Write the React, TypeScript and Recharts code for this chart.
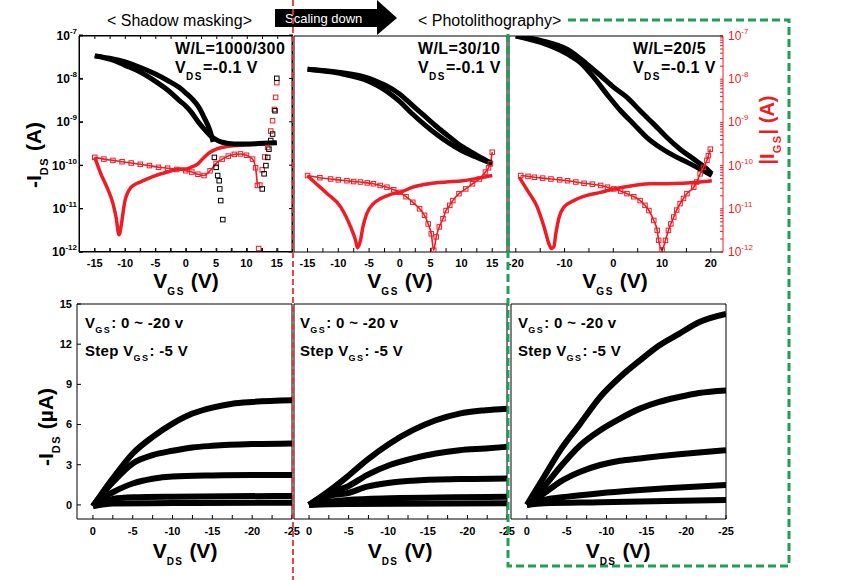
import React from "react";
import { ComposedChart, Line, XAxis, YAxis } from "recharts";

const FONT = '"Liberation Sans", Arial, Helvetica, sans-serif';
const RED = "#ee1c24";
const GREEN = "#1f9e55";

type Pt = [number, number];

// ---- transfer curves: [V_GS, log10(I)] ----
const p1DrainFwd: Pt[] = [[-15, -7.46], [-12, -7.56], [-10, -7.68], [-8, -7.8], [-5, -8.05], [-3, -8.25], [-1, -8.5], [0, -8.62], [1, -8.78], [2, -8.98], [3, -9.15], [4, -9.3], [5, -9.4], [6, -9.46], [8, -9.5], [10, -9.5], [12, -9.49], [15, -9.47]];
const p1DrainRev: Pt[] = [[-15, -7.46], [-12, -7.53], [-10, -7.6], [-8, -7.7], [-5, -7.88], [-3, -8.03], [-1, -8.2], [0, -8.32], [1, -8.45], [2, -8.62], [3, -8.88], [4, -9.2], [4.5, -9.45]];
const p1DrainTail: Pt[] = [[4.7, -9.81], [5.0, -10.04], [5.25, -10.23], [5.5, -10.35], [5.6, -10.54], [5.75, -10.81], [6.1, -11.25], [12.6, -10.54], [12.9, -10.19], [13.2, -10.0], [13.5, -9.81], [13.7, -9.62], [14.0, -9.42], [14.3, -9.27], [14.7, -8.73], [15, -7.98]];
const p1GateFwd: Pt[] = [[-15, -9.81], [-14, -10.19], [-13, -10.5], [-12, -10.88], [-11.5, -11.19], [-11, -11.6], [-10.6, -11.35], [-10.3, -11.05], [-10, -10.8], [-9, -10.5], [-8, -10.41], [-7, -10.35], [-5, -10.23], [-3, -10.15], [-1, -10.08], [0, -10.08], [1, -10.03], [2, -9.96], [3, -9.81], [4, -9.69], [5, -9.62], [7, -9.55], [10, -9.52], [15, -9.48]];
const p1GateRev: Pt[] = [[-15, -9.81], [-13.5, -9.85], [-12, -9.88], [-10.5, -9.91], [-9, -9.94], [-7.5, -9.97], [-6, -10.0], [-4.5, -10.04], [-3, -10.06], [-1.5, -10.09], [0, -10.12], [1, -10.15], [2, -10.2], [3, -10.23], [4, -10.12], [5, -9.95], [6, -9.85], [7, -9.78], [8, -9.74], [9, -9.73], [10, -9.76], [11, -9.85], [11.5, -10.05], [11.8, -10.46]];
const p1GateTail: Pt[] = [[12.0, -11.92], [12.2, -10.45], [12.6, -10.1], [13.0, -9.8], [13.5, -9.58], [14.0, -9.2], [14.3, -8.96], [14.6, -8.7], [14.8, -8.42], [15, -8.08]];

const p2DrainA: Pt[] = [[-15, -7.77], [-10, -7.84], [-5, -7.98], [-3, -8.1], [-1, -8.25], [0, -8.35], [2, -8.6], [4, -8.85], [6, -9.1], [8, -9.33], [10, -9.55], [12, -9.72], [14, -9.88], [15, -9.95]];
const p2DrainB: Pt[] = [[-15, -7.77], [-10, -7.86], [-5, -8.05], [-3, -8.2], [-1, -8.4], [0, -8.52], [2, -8.8], [4, -9.05], [6, -9.28], [8, -9.48], [10, -9.65], [12, -9.78], [14, -9.9], [15, -9.95]];
const p2GateFwd: Pt[] = [[-15, -10.23], [-13.9, -10.38], [-11.8, -10.65], [-9.6, -10.96], [-8, -11.42], [-7.2, -11.73], [-6.9, -11.9], [-6.4, -11.73], [-6, -11.42], [-5.4, -11.12], [-4.3, -10.88], [-3.2, -10.77], [-1.6, -10.67], [0, -10.62], [2.1, -10.5], [4.8, -10.42], [7.5, -10.38], [10.2, -10.35], [12.9, -10.29], [15, -10.23]];
const p2GateRev: Pt[] = [[-15, -10.23], [-13, -10.28], [-11.25, -10.31], [-10, -10.33], [-8.6, -10.35], [-7.5, -10.37], [-6.4, -10.38], [-5.3, -10.4], [-4.3, -10.42], [-3.2, -10.46], [-2.1, -10.5], [-1, -10.56], [0, -10.62], [1, -10.72], [2.1, -10.85], [3.2, -11.0], [4, -11.15], [4.6, -11.35], [5.1, -11.58], [5.5, -11.96], [5.9, -11.65], [6.4, -11.42], [7, -11.23], [7.5, -11.04], [8.1, -10.92], [8.6, -10.81], [9.6, -10.65], [10.7, -10.54], [11.8, -10.42], [12.9, -10.31], [13.9, -10.15], [14.4, -10.05], [14.7, -9.96], [15, -9.69]];

const p3DrainA: Pt[] = [[-20, -7.0], [-14.9, -7.1], [-9.4, -7.31], [-5.4, -7.65], [-2.6, -7.92], [0.1, -8.19], [2.8, -8.42], [5.5, -8.73], [8.3, -9.04], [11, -9.35], [13.7, -9.62], [16.5, -9.85], [19.2, -10.08], [20.2, -10.19]];
const p3DrainB: Pt[] = [[-20, -7.0], [-14.9, -7.15], [-9.4, -7.42], [-6.7, -7.62], [-4, -7.96], [-1.3, -8.35], [1.5, -8.73], [4.2, -9.04], [6.9, -9.35], [9.6, -9.58], [12.4, -9.77], [15.1, -9.92], [17.8, -10.08], [20.2, -10.23]];
const p3GateFwd: Pt[] = [[-19.3, -10.27], [-17.6, -10.58], [-15.6, -10.96], [-14.2, -11.42], [-13.2, -11.81], [-12.7, -11.92], [-12.2, -11.88], [-11.8, -11.58], [-11.1, -11.19], [-10.1, -10.96], [-8.1, -10.81], [-5.4, -10.69], [-2.6, -10.62], [0.1, -10.54], [4.2, -10.46], [7.6, -10.42], [11, -10.42], [14.4, -10.41], [17.8, -10.38], [20.2, -10.35]];
const p3GateRev: Pt[] = [[-19, -10.23], [-17.5, -10.25], [-16.2, -10.27], [-14.5, -10.29], [-12.8, -10.31], [-11, -10.33], [-9.4, -10.35], [-7.7, -10.38], [-6, -10.41], [-4.3, -10.43], [-2.6, -10.46], [-1.2, -10.5], [0.1, -10.54], [1.5, -10.59], [2.8, -10.65], [4.2, -10.72], [5.5, -10.81], [6.5, -10.92], [7.3, -11.04], [8.3, -11.27], [9, -11.5], [9.3, -11.73], [10, -11.95], [10.7, -11.73], [11.3, -11.5], [11.8, -11.35], [12.4, -11.19], [13, -11.03], [13.7, -10.88], [14.4, -10.76], [15.1, -10.65], [16.5, -10.5], [17.1, -10.38], [17.8, -10.19], [18.5, -10.04], [19.2, -9.88], [19.5, -9.77], [19.9, -9.62]];

// ---- output curves: [|V_DS|, -I_DS (uA)], V_GS = 0, -5, -10, -15, -20 V ----
const p4Vg0: Pt[] = [[0, -0.1], [2.5, 0.1], [10, 0.14], [25, 0.17]];
const p4Vg5: Pt[] = [[0, -0.1], [1, 0.25], [2.5, 0.45], [5, 0.57], [10, 0.62], [25, 0.67]];
const p4Vg10: Pt[] = [[0, -0.1], [1, 0.45], [2.5, 0.95], [5, 1.6], [7.5, 1.95], [10, 2.12], [15, 2.2], [20, 2.23], [25, 2.23]];
const p4Vg15: Pt[] = [[0, -0.1], [1, 0.7], [2.5, 1.7], [5, 3.1], [7.5, 3.72], [10, 4.04], [12.5, 4.29], [15, 4.41], [20, 4.54], [25, 4.59]];
const p4Vg20: Pt[] = [[0, -0.1], [1, 0.75], [2.5, 1.98], [5, 3.84], [7.5, 5.08], [10, 6.07], [12.5, 6.82], [15, 7.27], [17.5, 7.56], [20, 7.69], [25, 7.81]];

const p5Vg0: Pt[] = [[0, 0], [4.8, 0.07], [25, 0.12]];
const p5Vg5: Pt[] = [[0, 0], [2.7, 0.25], [4.8, 0.37], [10.2, 0.5], [25, 0.62]];
const p5Vg10: Pt[] = [[0, 0], [2.7, 0.7], [4.8, 0.87], [7.3, 1.36], [10.2, 1.66], [13.1, 1.81], [19, 1.93], [25, 1.98]];
const p5Vg15: Pt[] = [[0, 0], [2.7, 0.95], [4.8, 1.36], [7.3, 2.23], [10.2, 2.98], [13.1, 3.47], [16, 3.84], [19, 4.09], [22.3, 4.22], [25, 4.34]];
const p5Vg20: Pt[] = [[0, 0], [2.7, 1.12], [4.8, 2.1], [7.3, 3.35], [10.2, 4.59], [13.1, 5.58], [16, 6.32], [19, 6.82], [22.3, 7.07], [25, 7.19]];

const p6Vg0: Pt[] = [[0, 0], [2.15, 0.12], [9.2, 0.2], [17.5, 0.3], [25, 0.37]];
const p6Vg5: Pt[] = [[0, 0], [2.15, 0.37], [5.1, 0.62], [9.2, 0.87], [13.3, 1.07], [17.5, 1.24], [25, 1.49]];
const p6Vg10: Pt[] = [[0, 0], [2.15, 0.87], [4.2, 1.74], [6.7, 2.48], [9.2, 2.98], [11.7, 3.3], [14.2, 3.47], [16.6, 3.64], [19.1, 3.79], [21.6, 3.92], [25, 4.09]];
const p6Vg15: Pt[] = [[0, 0], [2.15, 1.36], [4.2, 2.85], [6.7, 4.46], [9.2, 5.58], [11.7, 6.45], [14.2, 7.19], [16.6, 7.69], [19.1, 8.06], [21.6, 8.36], [25, 8.55]];
const p6Vg20: Pt[] = [[0, 0], [2.15, 2.1], [4.2, 4.09], [6.7, 6.07], [9.2, 8.06], [11.7, 9.55], [14.2, 10.79], [16.6, 11.9], [19.1, 12.77], [21.6, 13.64], [25, 14.26]];

// ---- ticks ----
const vgsTicks = [-15, -10, -5, 0, 5, 10, 15];
const vgsTicksWide = [-20, -10, 0, 10, 20];
const vdsTicks = [0, 5, 10, 15, 20, 25];
const idTicks = [0, 3, 6, 9, 12, 15];
const decades = [1e-12, 1e-11, 1e-10, 1e-9, 1e-8, 1e-7];

const withMinor = (t: number[]) => t.flatMap((v, i) => (i ? [(t[i - 1] + v) / 2, v] : [v]));
const logMinor = decades.flatMap((d, i) => (i < decades.length - 1 ? [d, 2 * d, 3 * d, 4 * d, 5 * d, 6 * d, 7 * d, 8 * d, 9 * d] : [d]));

const toLog = (pts: Pt[]) => pts.map(([v, e]) => ({ v, i: Math.pow(10, e) }));
const toLin = (pts: Pt[]) => pts.map(([v, i]) => ({ v, i }));

const tickFont = { fontSize: 11, fontWeight: 700, fill: "#000", fontFamily: FONT };
const blackLine = { stroke: "#000", strokeWidth: 1 };

type Rect = { x: number; y: number; w: number; h: number };
const PAD = { top: 12, right: 12, bottom: 2, left: 2 };

function Plot({ r, l, rt, b, children }: { r: Rect; l: number; rt: number; b: number; children: React.ReactNode }) {
  const width = l + r.w + rt + PAD.left + PAD.right;
  const height = r.h + b + PAD.top + PAD.bottom;
  return (
    <div style={{ position: "absolute", left: r.x - l - PAD.left, top: r.y - PAD.top, width, height }}>
      <ComposedChart width={width} height={height} margin={PAD}>
        {children}
      </ComposedChart>
    </div>
  );
}

function LogTick(props: any) {
  const { x, y, payload, color, anchor, weight } = props;
  const e = Math.log10(payload.value);
  if (Math.abs(e - Math.round(e)) > 1e-6) return <g />;
  return (
    <text x={x} y={y + 4} textAnchor={anchor} fill={color} fontFamily={FONT} fontSize={12} fontWeight={weight}>
      10<tspan dy={-6} fontSize={8}>{Math.round(e)}</tspan>
    </text>
  );
}

const openSquare = (color: string, s = 4.5) => (p: any) => (
  <rect key={`sq-${p.index}-${p.cx}`} x={p.cx - s / 2} y={p.cy - s / 2} width={s} height={s} fill="none" stroke={color} strokeWidth={1} />
);

const vgsLabel = (majors: number[]) => (v: number) => (majors.includes(v) ? String(v) : "");
const vdsLabel = (v: number) => (vdsTicks.includes(v) ? (v === 0 ? "0" : `-${v}`) : "");

function thick(data: Pt[], color: string, w: number, key: string, axis?: string) {
  return (
    <Line key={key} data={toLog(data)} dataKey="i" yAxisId={axis ?? 0} type="monotone" stroke={color} strokeWidth={w} dot={false} isAnimationActive={false} />
  );
}

function openLine(data: Pt[], color: string, key: string, axis?: string) {
  return (
    <Line key={key} data={toLog(data)} dataKey="i" yAxisId={axis ?? 0} type="monotone" stroke={color} strokeWidth={1.6} dot={openSquare(color)} isAnimationActive={false} />
  );
}

// isolated open squares (no visible connecting line)
function dots(data: Pt[], color: string, key: string, axis?: string) {
  return (
    <Line key={key} data={toLog(data)} dataKey="i" yAxisId={axis ?? 0} type="linear" stroke="none" dot={openSquare(color)} isAnimationActive={false} />
  );
}

function frameAxes(domainX: number[], ticksX: number[], logScale: boolean, domY: number[], ticksY: number[], withRight: boolean) {
  const out = [
    <XAxis key="xt" xAxisId="top" orientation="top" type="number" dataKey="v" domain={domainX} ticks={ticksX} interval={0} tick={false} height={1} tickSize={-4} axisLine={blackLine} tickLine={blackLine} allowDataOverflow />,
  ];
  if (withRight)
    out.push(
      <YAxis key="yr" yAxisId="rf" orientation="right" type="number" dataKey="i" scale={logScale ? "log" : "linear"} domain={domY} ticks={ticksY} interval={0} tick={false} width={1} tickSize={-4} axisLine={blackLine} tickLine={blackLine} allowDataOverflow />
    );
  return out;
}

function TransferPanel(props: {
  r: Rect; l: number; rt: number; domain: number[]; majors: number[]; showLeft: boolean; redRight: boolean;
  series: React.ReactNode[];
}) {
  const { r, l, rt, domain, majors, showLeft, redRight, series } = props;
  const xt = withMinor(majors);
  return (
    <Plot r={r} l={l} rt={rt} b={30}>
      <XAxis type="number" dataKey="v" domain={domain} ticks={xt} interval={0} tickFormatter={vgsLabel(majors)} height={30} tickSize={-4} tickMargin={11} tick={tickFont} axisLine={blackLine} tickLine={blackLine} allowDataOverflow />
      <YAxis type="number" dataKey="i" scale="log" domain={[1e-12, 1e-7]} ticks={decades} interval={0} width={Math.max(l, 1)} tickSize={-4} tickMargin={6}
        tick={showLeft ? (p: any) => <LogTick {...p} color="#000" anchor="end" weight={700} /> : false} axisLine={blackLine} tickLine={blackLine} allowDataOverflow />
      {redRight && (
        <YAxis yAxisId="r" orientation="right" type="number" dataKey="i" scale="log" domain={[1e-12, 1e-7]} ticks={logMinor} interval={0} width={rt} tickSize={-3} tickMargin={8}
          tick={(p: any) => <LogTick {...p} color={RED} anchor="start" weight={400} />} axisLine={{ stroke: RED }} tickLine={{ stroke: RED }} allowDataOverflow />
      )}
      {frameAxes(domain, xt, true, [1e-12, 1e-7], decades, !redRight)}
      {series}
    </Plot>
  );
}

function OutputPanel(props: { r: Rect; l: number; domain: number[]; showLeft: boolean; curves: Pt[][] }) {
  const { r, l, domain, showLeft, curves } = props;
  const xt = withMinor(vdsTicks);
  return (
    <Plot r={r} l={l} rt={0} b={26}>
      <XAxis type="number" dataKey="v" domain={domain} ticks={xt} interval={0} tickFormatter={vdsLabel} height={26} tickSize={-4} tickMargin={12} tick={tickFont} axisLine={blackLine} tickLine={blackLine} allowDataOverflow />
      <YAxis type="number" dataKey="i" domain={[-1.05, 15]} ticks={idTicks} interval={0} width={Math.max(l, 1)} tickSize={-4} tickMargin={9} tick={showLeft ? tickFont : false} axisLine={blackLine} tickLine={blackLine} allowDataOverflow />
      {frameAxes(domain, xt, false, [-1.05, 15], idTicks, true)}
      {curves.map((c, k) => (
        <Line key={`c${k}`} data={toLin(c)} dataKey="i" type="monotone" stroke="#000" strokeWidth={6} dot={false} isAnimationActive={false} />
      ))}
    </Plot>
  );
}

// plain box with inward ticks, drawn over the first transfer plot
function BoxFrame({ r, domain }: { r: Rect; domain: number[] }) {
  const xs = withMinor(vgsTicks).map((v) => r.x + ((v - domain[0]) / (domain[1] - domain[0])) * r.w);
  const ys = decades.map((d, k) => r.y + r.h - (k / (decades.length - 1)) * r.h);
  return (
    <g stroke="#000" strokeWidth={1} fill="none">
      <rect x={r.x + 0.5} y={r.y + 0.5} width={r.w - 1} height={r.h - 1} />
      {xs.map((x, k) => (
        <g key={`x${k}`}>
          <line x1={x} x2={x} y1={r.y + r.h} y2={r.y + r.h - 4} />
          <line x1={x} x2={x} y1={r.y} y2={r.y + 4} />
        </g>
      ))}
      {ys.map((y, k) => (
        <g key={`y${k}`}>
          <line x1={r.x} x2={r.x + 4} y1={y} y2={y} />
          <line x1={r.x + r.w} x2={r.x + r.w - 4} y1={y} y2={y} />
        </g>
      ))}
    </g>
  );
}

const Sub = ({ children, size, drop }: { children: React.ReactNode; size: number; drop: number }) => (
  <span style={{ fontSize: size, position: "relative", top: drop, letterSpacing: 1.5, fontWeight: 700 }}>{children}</span>
);

const abs = (left: number, top: number, extra: React.CSSProperties = {}): React.CSSProperties => ({
  position: "absolute", left, top, lineHeight: 1, whiteSpace: "nowrap", ...extra,
});

function AxisTitleX({ cx, top, sub }: { cx: number; top: number; sub: string }) {
  return (
    <div style={abs(cx, top, { transform: "translateX(-50%)", fontSize: 21, fontWeight: 700 })}>
      V<Sub size={10} drop={7}>{sub}</Sub> (V)
    </div>
  );
}

function Annot({ left, top, wl }: { left: number; top: number; wl: string }) {
  return (
    <>
      <div style={abs(left, top, { fontSize: 16, fontWeight: 700, letterSpacing: 0.4 })}>W/L={wl}</div>
      <div style={abs(left, top + 19, { fontSize: 16, fontWeight: 700, letterSpacing: 0.4 })}>
        V<Sub size={10} drop={7}>DS</Sub>=-0.1 V
      </div>
    </>
  );
}

function Bias({ left }: { left: number }) {
  return (
    <>
      <div style={abs(left, 315, { fontSize: 15, fontWeight: 700, letterSpacing: 0.3 })}>
        V<Sub size={9} drop={5}>GS</Sub>: 0 ~ -20 v
      </div>
      <div style={abs(left, 343, { fontSize: 15, fontWeight: 700, letterSpacing: 0.3 })}>
        Step V<Sub size={9} drop={5}>GS</Sub>: -5 V
      </div>
    </>
  );
}

const P1: Rect = { x: 79, y: 35, w: 214, h: 217 };
const P1_DOMAIN = [-17.6, 17.5];

export default function App() {
  return (
    <div style={{ position: "absolute", left: 0, top: 0, width: 867, height: 580, background: "#fff", fontFamily: FONT, color: "#000", overflow: "hidden" }}>
      <TransferPanel r={P1} l={79} rt={0} domain={P1_DOMAIN} majors={vgsTicks} showLeft redRight={false}
        series={[
          thick(p1GateFwd, RED, 3.5, "g1"), openLine(p1GateRev, RED, "g2"), dots(p1GateTail, RED, "g3"),
          thick(p1DrainFwd, "#000", 5, "d1"), thick(p1DrainRev, "#000", 5, "d2"), dots(p1DrainTail, "#000", "d3"),
        ]} />
      <TransferPanel r={{ x: 293, y: 35, w: 215, h: 217 }} l={0} rt={0} domain={[-17.2, 17.4]} majors={vgsTicks} showLeft={false} redRight={false}
        series={[
          thick(p2GateFwd, RED, 3.5, "g1"), openLine(p2GateRev, RED, "g2"),
          thick(p2DrainA, "#000", 5, "d1"), thick(p2DrainB, "#000", 5, "d2"),
        ]} />
      <TransferPanel r={{ x: 508, y: 35, w: 215, h: 217 }} l={0} rt={40} domain={[-21.4, 22.5]} majors={vgsTicksWide} showLeft={false} redRight
        series={[
          thick(p3DrainA, "#000", 5, "d1"), thick(p3DrainB, "#000", 5, "d2"),
          thick(p3GateFwd, RED, 3.5, "g1", "r"), openLine(p3GateRev, RED, "g2", "r"),
        ]} />

      <OutputPanel r={{ x: 77, y: 303, w: 216, h: 216 }} l={77} domain={[-2, 25]} showLeft curves={[p4Vg0, p4Vg5, p4Vg10, p4Vg15, p4Vg20]} />
      <OutputPanel r={{ x: 293, y: 303, w: 215, h: 216 }} l={0} domain={[-1.9, 25]} showLeft={false} curves={[p5Vg0, p5Vg5, p5Vg10, p5Vg15, p5Vg20]} />
      <OutputPanel r={{ x: 510, y: 303, w: 217, h: 216 }} l={0} domain={[-2, 25]} showLeft={false} curves={[p6Vg0, p6Vg5, p6Vg10, p6Vg15, p6Vg20]} />

      {/* decorations */}
      <svg width={867} height={580} style={{ position: "absolute", left: 0, top: 0, pointerEvents: "none" }}>
        <BoxFrame r={P1} domain={P1_DOMAIN} />
        <polygon points="275,9 377,9 377,0 397,18 377,35 377,27 275,27" fill="#000" />
        <text x={285} y={23} fill="#fff" fontFamily={FONT} fontSize={13}>Scaling down</text>
        <line x1={293} y1={0} x2={293} y2={580} stroke="#e8303a" strokeWidth={1.8} strokeDasharray="6 3" />
        <rect x={508} y={20} width={281} height={546} fill="none" stroke={GREEN} strokeWidth={3} strokeDasharray="8 4" />
      </svg>

      <div style={abs(107, 13, { fontSize: 16 })}>&lt; Shadow masking&gt;</div>
      <div style={abs(418, 13, { fontSize: 16, background: "#fff", paddingRight: 3 })}>&lt; Photolithography&gt;</div>

      <Annot left={175} top={41} wl="1000/300" />
      <Annot left={418} top={41} wl="30/10" />
      <Annot left={633} top={41} wl="20/5" />

      <AxisTitleX cx={186} top={270} sub="GS" />
      <AxisTitleX cx={400} top={270} sub="GS" />
      <AxisTitleX cx={615} top={270} sub="GS" />
      <AxisTitleX cx={185} top={540} sub="DS" />
      <AxisTitleX cx={400} top={540} sub="DS" />
      <AxisTitleX cx={618} top={540} sub="DS" />

      <div style={abs(33, 155, { transform: "translate(-50%, -50%) rotate(-90deg)", fontSize: 21, fontWeight: 700 })}>
        -I<Sub size={11} drop={7}>DS</Sub> (A)
      </div>
      <div style={abs(45, 427, { transform: "translate(-50%, -50%) rotate(-90deg)", fontSize: 21, fontWeight: 700 })}>
        -I<Sub size={11} drop={7}>DS</Sub> (µA)
      </div>
      <div style={abs(767, 130, { transform: "translate(-50%, -50%) rotate(-90deg)", fontSize: 20, fontWeight: 700, color: RED })}>
        |I<Sub size={11} drop={7}>GS</Sub>| (A)
      </div>

      <Bias left={85} />
      <Bias left={300} />
      <Bias left={518} />
    </div>
  );
}
